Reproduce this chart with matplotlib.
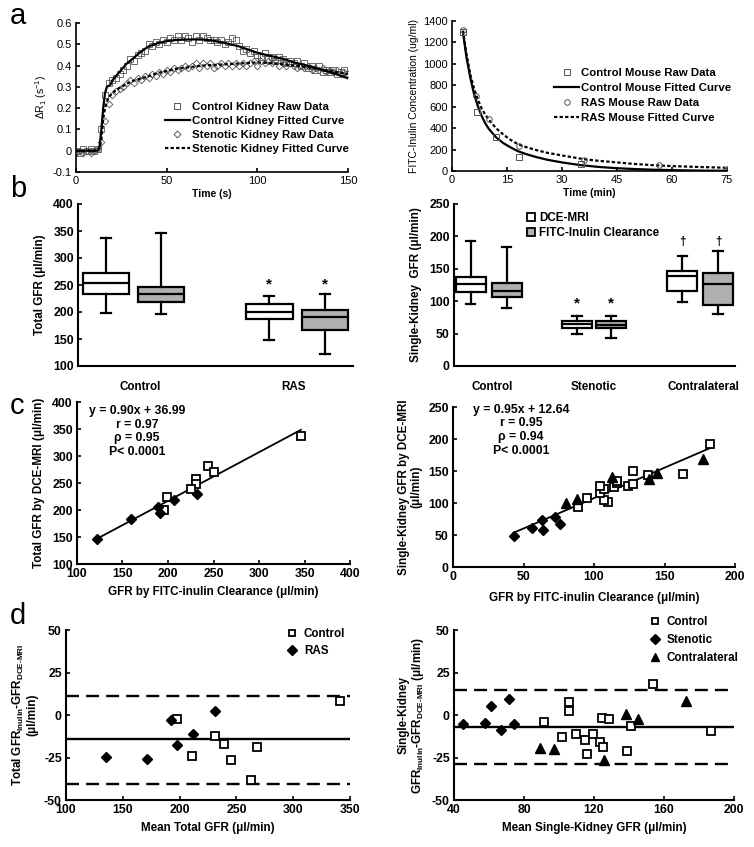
import matplotlib
matplotlib.use("Agg")
import matplotlib.pyplot as plt
from matplotlib.lines import Line2D

plt.rcParams['font.family'] = ['Liberation Sans', 'DejaVu Sans']
plt.rcParams['mathtext.fontset'] = 'custom'
plt.rcParams['mathtext.rm'] = 'Liberation Sans:bold'
plt.rcParams['mathtext.bf'] = 'Liberation Sans:bold'
plt.rcParams['mathtext.it'] = 'Liberation Sans:bold'
plt.rcParams['mathtext.default'] = 'bf'

# ---------------- data: panel a (left) ----------------
t_raw = [0, 2, 4, 6, 8, 10, 12, 14, 16, 18, 20, 22, 24, 26, 28, 30, 32, 34, 36, 38,
         40, 42, 44, 46, 48, 50, 52, 54, 56, 58, 60, 62, 64, 66, 68, 70, 72, 74, 76, 78,
         80, 82, 84, 86, 88, 90, 92, 94, 96, 98, 100, 102, 104, 106, 108, 110, 112, 114, 116, 118,
         120, 122, 124, 126, 128, 130, 132, 134, 136, 138, 140, 142, 144, 146, 148, 150]
ctrl_raw = [0.00, -0.01, 0.01, 0.00, 0.01, 0.00, 0.01, 0.10, 0.26, 0.32, 0.33, 0.34, 0.36, 0.38, 0.40, 0.43, 0.42, 0.45, 0.46, 0.47,
            0.50, 0.49, 0.51, 0.50, 0.52, 0.51, 0.53, 0.52, 0.54, 0.52, 0.54, 0.53, 0.51, 0.54, 0.52, 0.54, 0.53, 0.52, 0.52, 0.51,
            0.52, 0.50, 0.51, 0.53, 0.52, 0.49, 0.47, 0.48, 0.46, 0.47, 0.45, 0.44, 0.46, 0.43, 0.44, 0.42, 0.44, 0.43, 0.41, 0.42,
            0.41, 0.42, 0.40, 0.41, 0.39, 0.40, 0.38, 0.40, 0.37, 0.38, 0.37, 0.38, 0.36, 0.37, 0.38, 0.36]
sten_raw = [-0.01, 0.00, -0.01, 0.00, -0.01, 0.00, 0.01, 0.04, 0.14, 0.22, 0.26, 0.28, 0.29, 0.30, 0.32, 0.33, 0.32, 0.34, 0.33, 0.35,
            0.34, 0.36, 0.35, 0.37, 0.36, 0.38, 0.37, 0.39, 0.38, 0.39, 0.40, 0.39, 0.40, 0.41, 0.39, 0.41, 0.40, 0.41, 0.39, 0.40,
            0.41, 0.40, 0.41, 0.40, 0.41, 0.40, 0.41, 0.40, 0.41, 0.42, 0.40, 0.42, 0.41, 0.42, 0.41, 0.42, 0.40, 0.41, 0.40, 0.41,
            0.40, 0.39, 0.40, 0.39, 0.40, 0.38, 0.39, 0.38, 0.39, 0.37, 0.38, 0.37, 0.38, 0.36, 0.37, 0.36]
ctrl_fit_t = [0, 12, 13, 14, 15, 16, 17, 18, 19, 20, 22, 25, 28, 31, 35, 40, 45, 50, 55, 60, 65, 70, 75,
              80, 85, 90, 95, 100, 105, 110, 115, 120, 125, 130, 135, 140, 145, 150]
ctrl_fit = [0.0, 0.0, 0.02, 0.10, 0.20, 0.27, 0.30, 0.305, 0.31, 0.33, 0.35, 0.38, 0.41, 0.43, 0.46, 0.49, 0.505, 0.515, 0.52, 0.522, 0.523, 0.522, 0.518,
            0.51, 0.50, 0.49, 0.475, 0.46, 0.45, 0.44, 0.43, 0.415, 0.405, 0.395, 0.38, 0.37, 0.355, 0.34]
sten_fit_t = [0, 12, 13, 14, 15, 16, 17, 18, 20, 22, 25, 28, 32, 36, 40, 45, 50, 55, 60, 70, 80, 90, 100, 110, 120, 130, 140, 150]
sten_fit = [0.0, 0.0, 0.01, 0.05, 0.15, 0.20, 0.23, 0.25, 0.27, 0.285, 0.30, 0.315, 0.33, 0.34, 0.35, 0.365, 0.375, 0.385, 0.39, 0.40, 0.405, 0.41, 0.415, 0.41, 0.40, 0.39, 0.375, 0.36]

# ---------------- data: panel a (right) ----------------
ctrl_mouse_t = [3, 6.8, 12, 18.2, 35.2, 75]
ctrl_mouse_c = [1300, 555, 315, 130, 62, 10]
ras_mouse_t = [3, 6.5, 10.1, 18.2, 36.1, 56.5, 75.5]
ras_mouse_c = [1313, 697, 488, 233, 100, 53, 31]
ctrl_mfit_t = [3, 4, 5, 6, 7, 8, 9, 10, 12, 14, 16, 18, 20, 23, 26, 30, 35, 40, 45, 50, 55, 60, 65, 70, 75]
ctrl_mfit = [1290, 1050, 870, 720, 610, 520, 450, 395, 315, 260, 220, 185, 160, 130, 105, 80, 55, 38, 26, 18, 12, 8, 5, 3, 2]
ras_mfit_t = [3, 4, 5, 6, 7, 8, 9, 10, 12, 14, 16, 18, 20, 23, 26, 30, 36, 40, 45, 50, 56, 60, 65, 70, 75]
ras_mfit = [1310, 1080, 900, 770, 670, 590, 530, 480, 400, 340, 290, 250, 225, 195, 170, 145, 110, 95, 80, 65, 52, 46, 40, 35, 30]

# ---------------- data: panel b (box plots: low, q1, median, q3, high) ----------------
tot_groups = ["Control", "RAS"]
tot_mri = [[199, 234, 253, 273, 337], [148, 187, 200, 215, 230]]
tot_inu = [[197, 219, 233, 246, 346], [123, 167, 190, 204, 233]]
tot_star = [251]
sk_groups = ["Control", "Stenotic", "Contralateral"]
sk_mri = [[95, 114, 127, 138, 193], [49, 59, 65, 70, 77], [99, 115, 139, 146, 169]]
sk_inu = [[90, 107, 116, 128, 183], [43, 58, 63, 70, 77], [81, 94, 126, 144, 177]]
sk_star = [97]
sk_dagger = [191]

# ---------------- data: panel c ----------------
tc_ctrl_inu = [346, 244, 251, 231, 231, 225, 199, 196]
tc_ctrl_mri = [337, 282, 270, 257, 249, 238, 224, 200]
tc_ras_inu = [122, 159, 189, 191, 207, 232]
tc_ras_mri = [147, 184, 206, 194, 218, 230]
tc_fit = [0.90, 36.99]
tc_fit_range = [122, 346]
tc_stats = ["y = 0.90x + 36.99", "r = 0.97", "\u03c1 = 0.95", "P< 0.0001"]

sc_ctrl_inu = [163, 110, 107, 89, 95, 104, 107, 114, 116, 116, 104, 124, 128, 138, 128, 182]
sc_ctrl_mri = [145, 102, 105, 93, 108, 116, 122, 125, 132, 135, 127, 126, 130, 144, 150, 192]
sc_sten_inu = [43, 56, 64, 63, 72, 76]
sc_sten_mri = [48, 61, 58, 73, 78, 67]
sc_contra_inu = [80, 88, 113, 139, 145, 177]
sc_contra_mri = [100, 107, 140, 138, 147, 169]
sc_fit = [0.95, 12.64]
sc_fit_range = [43, 183]
sc_stats = ["y = 0.95x + 12.64", "r = 0.95", "\u03c1 = 0.94", "P< 0.0001"]

# ---------------- data: panel d (Bland-Altman) ----------------
td_ctrl_mean = [198, 211, 231, 239, 245, 268, 263, 341]
td_ctrl_diff = [-2.6, -24.3, -12.2, -17.1, -26.3, -18.6, -38.2, 8.2]
td_ras_mean = [135, 171, 192, 198, 212, 231]
td_ras_diff = [-24.9, -25.7, -2.9, -17.6, -11.2, 2.1]
td_lines = [11.0, -14.3, -40.8]   # upper LoA, mean, lower LoA

sd_ctrl_mean = [153.7, 105.9, 105.9, 91.2, 101.7, 109.9, 114.6, 119.2, 123.6, 125.1, 115.8, 124.6, 128.7, 140.9, 139.0, 187.0]
sd_ctrl_diff = [18.4, 7.5, 2.4, -4.4, -12.7, -11.2, -14.5, -11.2, -16.1, -19.0, -23.1, -2.0, -2.5, -6.7, -21.2, -9.6]
sd_sten_mean = [45.3, 57.9, 61.3, 66.8, 71.2, 74.3]
sd_sten_diff = [-5.2, -4.8, 5.4, -9.1, 9.5, -5.2]
sd_contra_mean = [89.3, 96.9, 125.9, 138.3, 145.3, 172.7]
sd_contra_diff = [-19.2, -20.0, -26.6, 0.7, -2.2, 8.1]
sd_lines = [15.0, -6.8, -29.0]

# ---------------- figure ----------------
W, H = 754, 847
fig = plt.figure(figsize=(W / 100, H / 100), dpi=100)


def px_axes(l, t, r, b):
    return fig.add_axes([l / W, 1 - b / H, (r - l) / W, (b - t) / H])


def style(ax, lw=1.5):
    for s in ['top', 'right']:
        ax.spines[s].set_visible(False)
    for s in ['left', 'bottom']:
        ax.spines[s].set_linewidth(lw)
    ax.tick_params(direction='in', length=3, width=1.2, pad=3)


TFS = 8.8   # tick font size (b-d)
LFS = 8.4   # label font size
AFS = 8.0   # panel a tick size


def ticks(ax, xt, yt, fs=TFS, weight='bold', xfmt=str, yfmt=str):
    if xt is not None:
        ax.set_xticks(xt, labels=[xfmt(v) for v in xt], fontsize=fs, fontweight=weight)
    if yt is not None:
        ax.set_yticks(yt, labels=[yfmt(v) for v in yt], fontsize=fs, fontweight=weight)


# ===== a left =====
ax = px_axes(76, 23, 348, 172)
style(ax, lw=1.2)
ax.plot(t_raw, ctrl_raw, 's', mfc='none', mec='#555555', ms=4.2, mew=0.6)
ax.plot(t_raw, sten_raw, 'D', mfc='none', mec='#555555', ms=3.4, mew=0.6)
ax.plot(ctrl_fit_t, ctrl_fit, '-', color='k', lw=1.6)
ax.plot(sten_fit_t, sten_fit, color='k', lw=1.6, ls=(0, (1.5, 1.0)))
ax.set_xlim(0, 150)
ax.set_ylim(-0.1, 0.6)
ticks(ax, [0, 50, 100, 150], [-0.1, 0, 0.1, 0.2, 0.3, 0.4, 0.5, 0.6], fs=AFS, weight='normal',
      yfmt=lambda v: ('%g' % v))
ax.set_xlabel('Time (s)', fontsize=7.5, fontweight='bold', labelpad=2)
ax.set_ylabel('\u0394R$_\\mathregular{1}$ (s$^\\mathregular{-1}$)', fontsize=7.5, labelpad=3)
h = [Line2D([], [], ls='none', marker='s', mfc='none', mec='#555555', ms=4, mew=0.7),
     Line2D([], [], color='k', lw=1.6),
     Line2D([], [], ls='none', marker='D', mfc='none', mec='#555555', ms=3.5, mew=0.7),
     Line2D([], [], color='k', lw=1.6, ls=(0, (1.5, 1.0)))]
ax.legend(h, ['Control Kidney Raw Data', 'Control Kidney Fitted Curve',
              'Stenotic Kidney Raw Data', 'Stenotic Kidney Fitted Curve'],
          loc='upper left', bbox_to_anchor=(0.327, 0.47), frameon=False,
          prop={'size': 8.2, 'weight': 'bold'}, handlelength=2.2, handletextpad=0.2,
          labelspacing=0.36, borderpad=0, borderaxespad=0)

# ===== a right =====
ax = px_axes(452, 21, 727, 171)
style(ax, lw=1.2)
ax.plot(ctrl_mfit_t, ctrl_mfit, '-', color='k', lw=1.6)
ax.plot(ras_mfit_t, ras_mfit, color='k', lw=1.6, ls=(0, (1.5, 1.0)))
ax.plot(ctrl_mouse_t, ctrl_mouse_c, 's', mfc='none', mec='#555555', ms=4, mew=0.7)
ax.plot(ras_mouse_t, ras_mouse_c, 'o', mfc='none', mec='#555555', ms=4, mew=0.7)
ax.set_xlim(0, 75)
ax.set_ylim(0, 1400)
ticks(ax, [0, 15, 30, 45, 60, 75], list(range(0, 1401, 200)), fs=AFS, weight='normal')
ax.set_xlabel('Time (min)', fontsize=7.5, fontweight='bold', labelpad=2)
ax.set_ylabel('FITC-Inulin Concentration (ug/ml)', fontsize=7.5, labelpad=3)
h = [Line2D([], [], ls='none', marker='s', mfc='none', mec='#555555', ms=4, mew=0.7),
     Line2D([], [], color='k', lw=1.6),
     Line2D([], [], ls='none', marker='o', mfc='none', mec='#555555', ms=4, mew=0.7),
     Line2D([], [], color='k', lw=1.6, ls=(0, (1.5, 1.0)))]
ax.legend(h, ['Control Mouse Raw Data', 'Control Mouse Fitted Curve',
              'RAS Mouse Raw Data', 'RAS Mouse Fitted Curve'],
          loc='upper left', bbox_to_anchor=(0.371, 0.69), frameon=False,
          prop={'size': 8.2, 'weight': 'bold'}, handlelength=2.2, handletextpad=0.2,
          labelspacing=0.45, borderpad=0, borderaxespad=0)

GRAY = '#b0b0b0'


def stats(vals):
    lo, q1, med, q3, hi = vals
    return dict(whislo=lo, q1=q1, med=med, q3=q3, whishi=hi, fliers=[])


def boxes(ax, data, pos, color, width, capw):
    ax.bxp([stats(v) for v in data], positions=pos, widths=width, patch_artist=True,
           showfliers=False, capwidths=capw,
           boxprops=dict(facecolor=color, edgecolor='k', linewidth=1.6),
           medianprops=dict(color='k', linewidth=1.6),
           whiskerprops=dict(color='k', linewidth=1.6),
           capprops=dict(color='k', linewidth=1.6))


# ===== b left =====
ax = px_axes(78, 204, 353, 366)
style(ax)
pos_w = [0.102, 0.695]
pos_g = [0.302, 0.898]
boxes(ax, tot_mri, pos_w, 'white', 0.17, 0.035)
boxes(ax, tot_inu, pos_g, GRAY, 0.17, 0.035)
for p in pos_w[1:] + pos_g[1:]:
    ax.text(p, tot_star[0], '*', ha='center', va='center', fontsize=11, fontweight='bold')
ax.set_xlim(0, 1)
ax.set_ylim(100, 400)
ticks(ax, None, list(range(100, 401, 50)))
ax.set_xticks([0.225, 0.785], labels=tot_groups, fontsize=LFS, fontweight='bold')
ax.tick_params(axis='x', length=0, pad=11)
ax.set_ylabel('Total GFR (\u03bcl/min)', fontsize=LFS, fontweight='bold', labelpad=5)

# ===== b right =====
ax = px_axes(454, 204, 735, 366)
style(ax)
pos_w = [0.059, 0.438, 0.813]
pos_g = [0.187, 0.559, 0.940]
boxes(ax, sk_mri, pos_w, 'white', 0.107, 0.035)
boxes(ax, sk_inu, pos_g, GRAY, 0.107, 0.035)
for p in [pos_w[1], pos_g[1]]:
    ax.text(p, sk_star[0], '*', ha='center', va='center', fontsize=11, fontweight='bold')
for p in [pos_w[2], pos_g[2]]:
    ax.text(p, sk_dagger[0], '\u2020', ha='center', va='center', fontsize=8.5, fontweight='bold')
ax.set_xlim(0, 1)
ax.set_ylim(0, 250)
ticks(ax, None, list(range(0, 251, 50)))
ax.set_xticks([0.135, 0.498, 0.886], labels=sk_groups, fontsize=LFS, fontweight='bold')
ax.tick_params(axis='x', length=0, pad=11)
ax.set_ylabel('Single-Kidney  GFR (\u03bcl/min)', fontsize=LFS, fontweight='bold', labelpad=5)
h = [Line2D([], [], ls='none', marker='s', mfc='white', mec='k', ms=5.5, mew=1.3),
     Line2D([], [], ls='none', marker='s', mfc=GRAY, mec='k', ms=5.5, mew=1.3)]
ax.legend(h, ['DCE-MRI', 'FITC-Inulin Clearance'], loc='upper left',
          bbox_to_anchor=(0.26, 0.95), frameon=False, prop={'size': LFS, 'weight': 'bold'},
          handlelength=0.7, handletextpad=0.35, labelspacing=0.25, borderpad=0, borderaxespad=0)

# ===== c left =====
ax = px_axes(77, 402, 350, 564)
style(ax)
xs = tc_fit_range
ax.plot(xs, [tc_fit[0] * x + tc_fit[1] for x in xs], color='k', lw=1.3)
ax.plot(tc_ctrl_inu, tc_ctrl_mri, 's', mfc='white', mec='k', ms=5.5, mew=1.3)
ax.plot(tc_ras_inu, tc_ras_mri, 'D', color='k', ms=5.5)
ax.set_xlim(100, 400)
ax.set_ylim(100, 400)
ticks(ax, list(range(100, 401, 50)), list(range(100, 401, 50)))
ax.set_xlabel('GFR by FITC-inulin Clearance (\u03bcl/min)', fontsize=LFS, fontweight='bold', labelpad=4)
ax.set_ylabel('Total GFR by DCE-MRI (\u03bcl/min)', fontsize=LFS, fontweight='bold', labelpad=5)
for s, y in zip(tc_stats, [0.944, 0.858, 0.778, 0.691]):
    ax.text(0.219, y, s, transform=ax.transAxes, ha='center', va='center',
            fontsize=8.8, fontweight='bold')

# ===== c right =====
ax = px_axes(453, 407, 735, 567)
style(ax)
xs = sc_fit_range
ax.plot(xs, [sc_fit[0] * x + sc_fit[1] for x in xs], color='k', lw=1.3)
ax.plot(sc_ctrl_inu, sc_ctrl_mri, 's', mfc='white', mec='k', ms=5.5, mew=1.3)
ax.plot(sc_sten_inu, sc_sten_mri, 'D', color='k', ms=5.5)
ax.plot(sc_contra_inu, sc_contra_mri, '^', color='k', ms=6.5)
ax.set_xlim(0, 200)
ax.set_ylim(0, 250)
ticks(ax, list(range(0, 201, 50)), list(range(0, 251, 50)))
ax.set_xlabel('GFR by FITC-inulin Clearance (\u03bcl/min)', fontsize=LFS, fontweight='bold', labelpad=6)
ax.set_ylabel('Single-Kidney GFR by DCE-MRI\n(\u03bcl/min)', fontsize=LFS, fontweight='bold',
              labelpad=4, linespacing=1.05)
for s, y in zip(sc_stats, [0.983, 0.902, 0.815, 0.727]):
    ax.text(0.241, y, s, transform=ax.transAxes, ha='center', va='center',
            fontsize=8.8, fontweight='bold')

DASH = (0, (5.5, 3))

# ===== d left =====
ax = px_axes(66, 630, 350, 800)
style(ax)
ax.axhline(td_lines[0], color='k', lw=1.7, ls=DASH)
ax.axhline(td_lines[1], color='k', lw=1.7)
ax.axhline(td_lines[2], color='k', lw=1.7, ls=DASH)
ax.plot(td_ctrl_mean, td_ctrl_diff, 's', mfc='white', mec='k', ms=5.5, mew=1.3)
ax.plot(td_ras_mean, td_ras_diff, 'D', color='k', ms=5.5)
ax.set_xlim(100, 350)
ax.set_ylim(-50, 50)
ticks(ax, list(range(100, 351, 50)), [-50, -25, 0, 25, 50])
ax.set_xlabel('Mean Total GFR (\u03bcl/min)', fontsize=LFS, fontweight='bold', labelpad=4)
ax.set_ylabel('Total GFR$_{\\mathregular{Inulin}}$-GFR$_{\\mathregular{DCE\u2010MRI}}$\n(\u03bcl/min)',
              fontsize=LFS, fontweight='bold', labelpad=4, linespacing=1.05)
h = [Line2D([], [], ls='none', marker='s', mfc='white', mec='k', ms=5, mew=1.3),
     Line2D([], [], ls='none', marker='D', color='k', ms=5)]
ax.legend(h, ['Control', 'RAS'], loc='upper left', bbox_to_anchor=(0.78, 1.012), frameon=False,
          prop={'size': LFS, 'weight': 'bold'}, handlelength=0.8, handletextpad=0.6,
          labelspacing=0.45, borderpad=0, borderaxespad=0)

# ===== d right =====
ax = px_axes(454, 630, 734, 800)
style(ax)
ax.axhline(sd_lines[0], color='k', lw=1.7, ls=DASH)
ax.axhline(sd_lines[1], color='k', lw=1.7)
ax.axhline(sd_lines[2], color='k', lw=1.7, ls=DASH)
ax.plot(sd_ctrl_mean, sd_ctrl_diff, 's', mfc='white', mec='k', ms=5.5, mew=1.3)
ax.plot(sd_sten_mean, sd_sten_diff, 'D', color='k', ms=5.5)
ax.plot(sd_contra_mean, sd_contra_diff, '^', color='k', ms=6.5)
ax.set_xlim(40, 200)
ax.set_ylim(-50, 50)
ticks(ax, list(range(40, 201, 40)), [-50, -25, 0, 25, 50])
ax.set_xlabel('Mean Single-Kidney GFR (\u03bcl/min)', fontsize=LFS, fontweight='bold', labelpad=4)
ax.set_ylabel('Single-Kidney\nGFR$_{\\mathregular{Inulin}}$-GFR$_{\\mathregular{DCE\u2010MRI}}$ (\u03bcl/min)',
              fontsize=LFS, fontweight='bold', labelpad=4, linespacing=1.05)
h = [Line2D([], [], ls='none', marker='s', mfc='white', mec='k', ms=5, mew=1.3),
     Line2D([], [], ls='none', marker='D', color='k', ms=5),
     Line2D([], [], ls='none', marker='^', color='k', ms=6)]
ax.legend(h, ['Control', 'Stenotic', 'Contralateral'], loc='upper left',
          bbox_to_anchor=(0.70, 1.08), frameon=False, prop={'size': LFS, 'weight': 'bold'},
          handlelength=0.8, handletextpad=0.6, labelspacing=0.5, borderpad=0, borderaxespad=0)

# panel letters
for s, x, y in [('a', 10, 24), ('b', 10, 197), ('c', 10, 414), ('d', 10, 624)]:
    fig.text(x / W, 1 - y / H, s, fontsize=21, va='baseline', ha='left')

fig.savefig('out.png', dpi=100)
